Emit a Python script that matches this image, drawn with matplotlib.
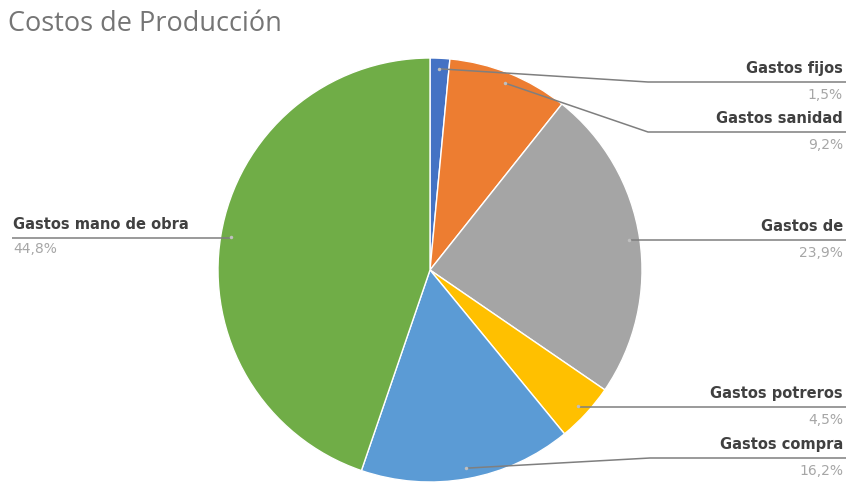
import matplotlib
matplotlib.use("Agg")
import matplotlib.pyplot as plt
import numpy as np

# Production cost breakdown
categories = ["Gastos fijos", "Gastos sanidad", "Gastos de", "Gastos potreros",
              "Gastos compra", "Gastos mano de obra"]
values = [1.5, 9.2, 23.9, 4.5, 16.2, 44.8]
pct_labels = ["1,5%", "9,2%", "23,9%", "4,5%", "16,2%", "44,8%"]
colors = ["#4472C4", "#ED7D31", "#A5A5A5", "#FFC000", "#5B9BD5", "#70AD47"]

W, H = 846, 482
fig = plt.figure(figsize=(W / 100, H / 100), dpi=100)
ax = fig.add_axes([0, 0, 1, 1])

cx, cy, R = 430, H - 270, 212
wedges, _ = ax.pie(values, colors=colors, startangle=90, counterclock=False,
                   center=(cx, cy), radius=R, frame=True,
                   wedgeprops=dict(edgecolor="white", linewidth=1))
ax.set_xlim(0, W)
ax.set_ylim(0, H)
ax.set_aspect("equal")
ax.axis("off")

# Label placement: (label line y in px from top, elbow x or None, side)
layout = [
    (82, 648, "right"),
    (132, 648, "right"),
    (240, None, "right"),
    (407, None, "right"),
    (458, 650, "right"),
    (238, None, "left"),
]

line_col = "#7F7F7F"
name_kw = dict(fontsize=10.5, color="#404040", family="DejaVu Sans",
               fontweight="semibold")
pct_kw = dict(fontsize=10, color="#A6A6A6", family="DejaVu Sans")

for w, name, pct, (ly, ex, side) in zip(wedges, categories, pct_labels, layout):
    mid = (w.theta1 + w.theta2) / 2
    ang = np.deg2rad(mid)
    px, py = cx + 0.95 * R * np.cos(ang), cy + 0.95 * R * np.sin(ang)
    yl = H - ly
    if side == "right":
        if ex is not None:
            xs, ys = [px, ex, W], [py, yl, yl]
        else:
            xs, ys = [px, W], [yl, yl]
        ax.plot(xs, ys, color=line_col, lw=1.1, solid_capstyle="butt")
        ax.plot([px], [py], marker="o", ms=2.5, color="#BFBFBF", mec="none")
        ax.text(W - 3, yl + 6, name, ha="right", va="bottom", **name_kw)
        ax.text(W - 3, yl - 6, pct, ha="right", va="top", **pct_kw)
    else:
        ax.plot([12, px], [yl, yl], color=line_col, lw=1.1, solid_capstyle="butt")
        ax.plot([px], [py], marker="o", ms=2.5, color="#BFBFBF", mec="none")
        ax.text(13, yl + 6, name, ha="left", va="bottom", **name_kw)
        ax.text(13, yl - 4, pct, ha="left", va="top", **pct_kw)

fig.text(8 / W, 1 - 24 / H, "Costos de Producción", ha="left", va="center",
         fontsize=19.5, color="#757575", family="Open Sans")

fig.savefig("out.png", dpi=100, facecolor="white")
